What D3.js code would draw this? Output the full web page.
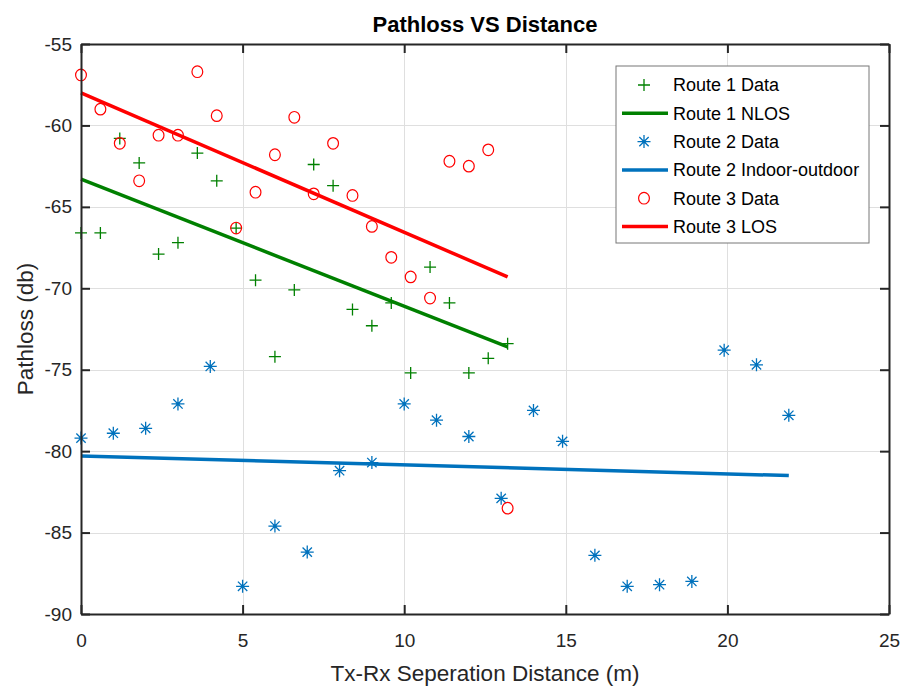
<!DOCTYPE html>
<html lang="en">
<head>
  <meta charset="UTF-8" />
  <title>Pathloss VS Distance</title>
  <style>
    body { margin: 0; background: #fff; }
    svg { display: block; font-family: 'Liberation Sans', Arial, sans-serif; }
    .grid line { stroke: #dfdfdf; stroke-width: 1px; shape-rendering: crispEdges; }
    .grid path { display: none; }
    .axis path, .axis line { stroke: #262626; stroke-width: 2px; }
    .axis text { fill: #262626; font-size: 19px; }
  </style>
</head>
<body>
  <svg width="905" height="686"></svg>

  <script src="https://d3js.org/d3.v7.min.js"></script>
  <script>
    // --- data
    const route1X = [0, 0.6, 1.2, 1.8, 2.4, 3.0, 3.6, 4.2, 4.8, 5.4, 6.0, 6.6, 7.2, 7.8, 8.4, 9.0, 9.6, 10.2, 10.8, 11.4, 12.0, 12.6, 13.2];
    const route1Y = [-66.6, -66.6, -60.8, -62.3, -67.9, -67.2, -61.7, -63.4, -66.3, -69.5, -74.2, -70.1, -62.4, -63.7, -71.3, -72.3, -70.9, -75.2, -68.7, -70.9, -75.2, -74.3, -73.4];
    const route1FitX = [0, 13.2];
    const route1FitY = [-63.3, -73.6];

    const route2X = [0, 1, 2, 3, 4, 5, 6, 7, 8, 9, 10, 11, 12, 13, 14, 14.9, 15.9, 16.9, 17.9, 18.9, 19.9, 20.9, 21.9];
    const route2Y = [-79.2, -78.9, -78.6, -77.1, -74.8, -88.3, -84.6, -86.2, -81.2, -80.7, -77.1, -78.1, -79.1, -82.9, -77.5, -79.4, -86.4, -88.3, -88.2, -88.0, -73.8, -74.7, -77.8];
    const route2FitX = [0, 21.9];
    const route2FitY = [-80.3, -81.5];

    const route3X = [0, 0.6, 1.2, 1.8, 2.4, 3.0, 3.6, 4.2, 4.8, 5.4, 6.0, 6.6, 7.2, 7.8, 8.4, 9.0, 9.6, 10.2, 10.8, 11.4, 12.0, 12.6, 13.2];
    const route3Y = [-56.9, -59.0, -61.1, -63.4, -60.6, -60.6, -56.7, -59.4, -66.3, -64.1, -61.8, -59.5, -64.2, -61.1, -64.3, -66.2, -68.1, -69.3, -70.6, -62.2, -62.5, -61.5, -83.5];
    const route3FitX = [0, 13.2];
    const route3FitY = [-58.0, -69.3];

    const xTicks = [0, 5, 10, 15, 20, 25];
    const yTicks = [-90, -85, -80, -75, -70, -65, -60, -55];
    const legendLabels = ["Route 1 Data", "Route 1 NLOS", "Route 2 Data", "Route 2 Indoor-outdoor", "Route 3 Data", "Route 3 LOS"];

    const zip = (xs, ys) => xs.map((v, i) => ({ x: v, y: ys[i] }));

    // --- set up
    const svg = d3.select("svg");
    const margin = { top: 44, right: 16, bottom: 72, left: 81 };
    const width = +svg.attr("width") - margin.left - margin.right;
    const height = +svg.attr("height") - margin.top - margin.bottom;
    const g = svg.append("g").attr("transform", `translate(${margin.left},${margin.top})`);

    const x = d3.scaleLinear().domain([0, 25]).range([0, width]);
    const y = d3.scaleLinear().domain([-90, -55]).range([height, 0]);
    const plain = d => String(d);   // hyphen-minus like the original

    // grid
    g.append("g").attr("class", "grid")
      .call(d3.axisLeft(y).tickValues(yTicks).tickSize(-width).tickFormat(""));
    g.append("g").attr("class", "grid").attr("transform", `translate(0,${height})`)
      .call(d3.axisBottom(x).tickValues(xTicks).tickSize(-height).tickFormat(""));

    // markers
    const plusPath = s => `M${-s},0H${s}M0,${-s}V${s}`;
    const starPath = s => {
      const d = s * 0.72;
      return `M${-s},0H${s}M0,${-s}V${s}M${-d},${-d}L${d},${d}M${-d},${d}L${d},${-d}`;
    };

    const line = d3.line().x(d => x(d.x)).y(d => y(d.y));

    function drawPlus(sel, pts) {
      sel.selectAll(null).data(pts).join("path")
        .attr("transform", d => `translate(${x(d.x)},${y(d.y)})`)
        .attr("d", plusPath(6))
        .attr("stroke", "#008000").attr("stroke-width", 1.3).attr("fill", "none");
    }
    function drawStar(sel, pts) {
      const s = sel.selectAll(null).data(pts).join("g")
        .attr("transform", d => `translate(${x(d.x)},${y(d.y)})`);
      s.append("path").attr("d", starPath(6.5))
        .attr("stroke", "#0072BD").attr("stroke-width", 1.3).attr("fill", "none");
      s.append("circle").attr("r", 1.6).attr("fill", "#0072BD");
    }
    function drawCircle(sel, pts) {
      sel.selectAll(null).data(pts).join("ellipse")
        .attr("cx", d => x(d.x)).attr("cy", d => y(d.y))
        .attr("rx", 5.4).attr("ry", 5.8)
        .attr("stroke", "#FF0000").attr("stroke-width", 1.2).attr("fill", "none");
    }
    function drawLine(pts, color) {
      g.append("path").datum(pts).attr("d", line)
        .attr("stroke", color).attr("stroke-width", 3.5).attr("fill", "none");
    }

    drawPlus(g.append("g"), zip(route1X, route1Y));
    drawLine(zip(route1FitX, route1FitY), "#008000");
    drawStar(g.append("g"), zip(route2X, route2Y));
    drawLine(zip(route2FitX, route2FitY), "#0072BD");
    drawCircle(g.append("g"), zip(route3X, route3Y));
    drawLine(zip(route3FitX, route3FitY), "#FF0000");

    // axes (box with inward ticks on all sides)
    g.append("g").attr("class", "axis").attr("transform", `translate(0,${height})`)
      .call(d3.axisBottom(x).tickValues(xTicks).tickFormat(plain).tickSize(-9).tickPadding(20).tickSizeOuter(0));
    g.append("g").attr("class", "axis")
      .call(d3.axisLeft(y).tickValues(yTicks).tickFormat(plain).tickSize(-9).tickPadding(9).tickSizeOuter(0));
    g.append("g").attr("class", "axis")
      .call(d3.axisTop(x).tickValues(xTicks).tickSize(-9).tickFormat("").tickSizeOuter(0));
    g.append("g").attr("class", "axis").attr("transform", `translate(${width},0)`)
      .call(d3.axisRight(y).tickValues(yTicks).tickSize(-9).tickFormat("").tickSizeOuter(0));
    g.selectAll(".axis text").attr("fill", "#262626");

    // titles
    svg.append("text")
      .attr("x", margin.left + width / 2).attr("y", 32)
      .attr("text-anchor", "middle")
      .style("font-size", "22px").style("font-weight", "bold").attr("fill", "#000")
      .text("Pathloss VS Distance");
    svg.append("text")
      .attr("x", margin.left + width / 2).attr("y", 681)
      .attr("text-anchor", "middle")
      .style("font-size", "22.5px").attr("fill", "#262626")
      .text("Tx-Rx Seperation Distance (m)");
    svg.append("text")
      .attr("transform", `translate(33,${margin.top + height / 2}) rotate(-90)`)
      .attr("text-anchor", "middle")
      .style("font-size", "22.5px").attr("fill", "#262626")
      .text("Pathloss (db)");

    // legend
    const leg = svg.append("g").attr("transform", "translate(616,66)");
    leg.append("rect").attr("width", 253).attr("height", 177)
      .attr("fill", "#fff").attr("stroke", "#777").attr("stroke-width", 1);
    const rowY = i => 19 + i * 28.3;
    legendLabels.forEach((lab, i) => {
      const row = leg.append("g").attr("transform", `translate(0,${rowY(i)})`);
      if (i === 0) row.append("path").attr("transform", "translate(28,0)").attr("d", plusPath(6))
        .attr("stroke", "#008000").attr("stroke-width", 1.3).attr("fill", "none");
      if (i === 2) {
        row.append("path").attr("transform", "translate(28,0)").attr("d", starPath(6.5))
          .attr("stroke", "#0072BD").attr("stroke-width", 1.3).attr("fill", "none");
        row.append("circle").attr("cx", 28).attr("r", 1.6).attr("fill", "#0072BD");
      }
      if (i === 4) row.append("ellipse").attr("cx", 28).attr("rx", 5.4).attr("ry", 5.8)
        .attr("stroke", "#FF0000").attr("stroke-width", 1.2).attr("fill", "none");
      const lc = { 1: "#008000", 3: "#0072BD", 5: "#FF0000" }[i];
      if (lc) row.append("line").attr("x1", 6).attr("x2", 52)
        .attr("stroke", lc).attr("stroke-width", 3.5);
      row.append("text").attr("x", 57).attr("dy", "0.35em")
        .style("font-size", "18px").attr("fill", "#000").text(lab);
    });
  </script>
</body>
</html>
